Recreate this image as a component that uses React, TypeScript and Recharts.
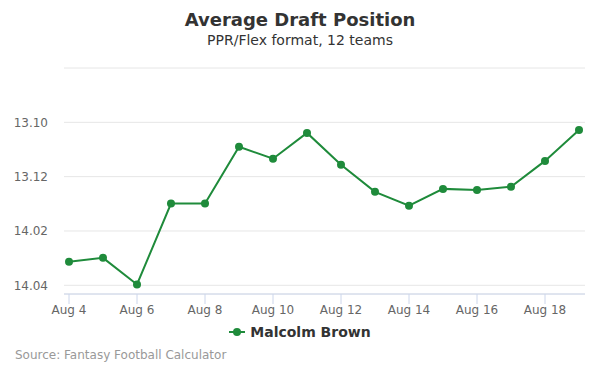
import React from 'react';
import { LineChart, Line, XAxis, YAxis, CartesianGrid, Legend } from 'recharts';

const dates = ['Aug 4','Aug 5','Aug 6','Aug 7','Aug 8','Aug 9','Aug 10','Aug 11','Aug 12','Aug 13','Aug 14','Aug 15','Aug 16','Aug 17','Aug 18','Aug 19'];
const adp = [159.13, 158.99, 159.97, 156.99, 156.99, 154.9, 155.34, 154.39, 155.56, 156.56, 157.07, 156.45, 156.49, 156.37, 155.42, 154.28];
const yTicks = [152, 154, 156, 158, 160];
const yTickLabels = ['', '13.10', '13.12', '14.02', '14.04'];
const seriesName = 'Malcolm Brown';
const title = 'Average Draft Position';
const subtitle = 'PPR/Flex format, 12 teams';
const source = 'Source: Fantasy Football Calculator';

const data = dates.map((d, i) => ({ date: d, adp: adp[i] }));
const COLOR = '#1f8b3b';
const FONT = '"DejaVu Sans", sans-serif';

const renderLegend = () => (
  <div style={{ display: 'flex', justifyContent: 'center', alignItems: 'center', fontFamily: FONT }}>
    <svg width={16} height={10} style={{ marginRight: 5 }}>
      <line x1={0} y1={5} x2={16} y2={5} stroke={COLOR} strokeWidth={2} />
      <circle cx={8} cy={5} r={4} fill={COLOR} />
    </svg>
    <span style={{ fontSize: 14, fontWeight: 'bold', color: '#333' }}>{seriesName}</span>
  </div>
);

export default function App() {
  return (
    <div style={{ position: 'absolute', left: 0, top: 0, width: 600, height: 375, background: '#fff', fontFamily: FONT }}>
      <div style={{ position: 'absolute', top: 9, left: 0, width: 600, textAlign: 'center', fontSize: 18, fontWeight: 'bold', color: '#333' }}>{title}</div>
      <div style={{ position: 'absolute', top: 32, left: 0, width: 600, textAlign: 'center', fontSize: 14, color: '#333' }}>{subtitle}</div>
      <LineChart width={600} height={375} data={data} margin={{ top: 68, right: 15, bottom: 0, left: 0 }}>
        <CartesianGrid vertical={false} stroke="#e6e6e6" />
        <XAxis
          dataKey="date"
          interval={1}
          padding={{ left: 5, right: 6 }}
          height={81}
          stroke="#ccd6eb"
          tickLine={{ stroke: '#ccd6eb' }}
          tickSize={10}
          tickMargin={1}
          tick={{ fill: '#666', fontSize: 12, fontFamily: FONT }}
        />
        <YAxis
          width={64}
          reversed
          domain={[152, 160.32]}
          ticks={yTicks}
          allowDataOverflow
          axisLine={false}
          tickLine={false}
          tickSize={0}
          tickMargin={16}
          tickFormatter={(v: number) => yTickLabels[yTicks.indexOf(v)] ?? ''}
          tick={{ fill: '#666', fontSize: 12, fontFamily: FONT }}
        />
        <Legend verticalAlign="middle" content={renderLegend} wrapperStyle={{ top: 324, left: 0, width: 600 }} />
        <Line
          type="linear"
          dataKey="adp"
          name={seriesName}
          stroke={COLOR}
          strokeWidth={2}
          dot={{ r: 4, fill: COLOR, stroke: COLOR, strokeWidth: 0 }}
          activeDot={false}
          isAnimationActive={false}
        />
      </LineChart>
      <div style={{ position: 'absolute', top: 348, left: 15, fontSize: 12, color: '#999' }}>{source}</div>
    </div>
  );
}
